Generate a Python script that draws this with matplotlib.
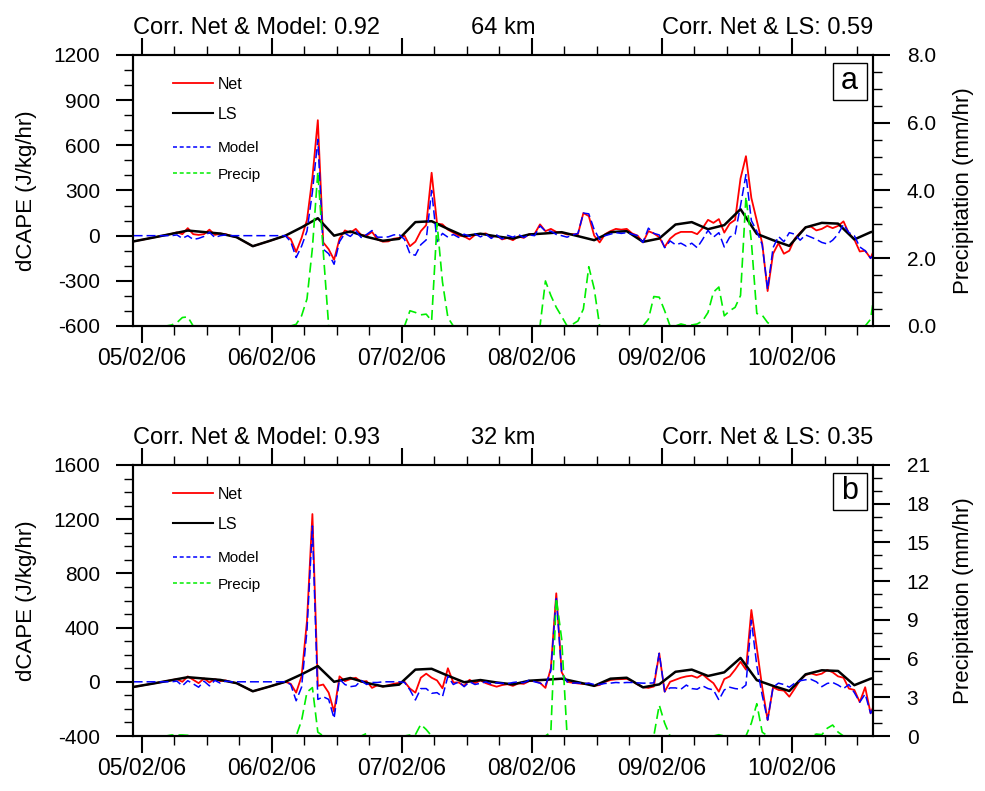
import numpy as np
import matplotlib
matplotlib.use("Agg")
import matplotlib.pyplot as plt
from matplotlib.ticker import MultipleLocator, FixedLocator, FormatStrFormatter
from matplotlib.lines import Line2D
from matplotlib.patches import Rectangle

plt.rcParams['font.family'] = ['Liberation Sans', 'DejaVu Sans']
plt.rcParams['axes.unicode_minus'] = False

# ---------------- data ----------------
# hourly samples, first one at HOUR0 hours after 05/02/06 00:00
HOUR0 = -1.5
# large-scale forcing, 3-hourly, first sample at LS_HOUR0
LS_HOUR0 = -3.5
LS_STEP = 3.0

day_labels = ['05/02/06', '06/02/06', '07/02/06', '08/02/06', '09/02/06', '10/02/06']
day_hours = [0, 24, 48, 72, 96, 120]

ls_dcape = [-52, -31, -10, 12, 34, 24, 14, -10, -70, -36,
            0, 55, 116, 0, 28, -8, -34, -21, 90, 96,
            45, -3, 13, -5, -19, 8, 15, 23, -3, -30,
            23, 30, -41, -19, 74, 90, 43, 70, 176, 12,
            -30, -68, 55, 85, 80, -25, 23, 50]

# ---- 64 km ----
net_a = [-38, -31, -24, -17, -10, -3, 5, 12, 22, 10,
         50, 10, 5, 10, 40, 5, 14, 10, -2, -10,
         -30, -50, -70, -59, -47, -36, -24, -12, 0, -22,
         -108, -15, 105, 386, 767, -45, -90, -160, -20, 35,
         20, 45, 5, 0, 25, -25, -40, -38, -20, -15,
         0, -70, -40, 30, 70, 418, 80, 75, 40, 20,
         0, -5, -25, 5, 10, 15, -10, 0, -25, -15,
         -30, -5, -15, 10, 12, 75, 30, 45, 25, 20,
         8, 10, 10, 150, 130, 0, -45, 10, 30, 45,
         40, 45, 15, 0, -45, 30, 15, -10, -75, -20,
         10, 25, 25, 25, 10, 50, 105, 85, 110, 20,
         80, 105, 380, 528, 250, 100, -50, -368, -120, -50,
         -120, -100, -20, 20, 55, 60, 35, 45, 65, 50,
         65, 95, 15, -25, -105, -100, -150, -60]

model_a = [0, 0, 0, 0, 0, 0, 0, 0, 5, -18,
           0, -25, -18, -5, 22, -12, 0, 5, 0, 0,
           0, 0, 0, 0, 0, 0, 0, 0, 0, -40,
           -145, -70, 30, 290, 640, -90, -120, -190, -40, 15,
           -5, 30, -12, 8, 34, -10, -10, -8, 5, 8,
           -25, -120, -130, -60, -28, 300, -40, 15, -10, 8,
           -12, 10, -5, 12, -8, 10, -18, 5, -22, 2,
           -10, 8, -12, 5, 0, 65, 30, 30, 8, 0,
           -10, 5, 15, 150, 145, 40, -25, 0, 10, 20,
           15, 20, 10, 0, -45, 50, 15, 5, -80, -35,
           -60, -50, -70, -50, -80, -25, 35, -10, 20, -75,
           -10, 10, 200, 405, 100, 30, -60, -357, -80, -5,
           -40, 20, 10, -30, 5, -10, -25, -45, -55, -30,
           10, 75, 20, 0, -75, -100, -150, -110]

precip_a = [0, 0, 0, 0, 0, 0, 0, 0.03, 0.1, 0.25,
            0.27, 0, 0, 0, 0, 0, 0, 0, 0, 0,
            0, 0, 0, 0, 0, 0, 0, 0, 0, 0,
            0.05, 0.3, 0.8, 2.3, 4.56, 2.2, 0, 0, 0, 0,
            0, 0, 0, 0, 0, 0, 0, 0, 0, 0,
            0, 0.45, 0.4, 0.33, 0.35, 0.15, 3.03, 1.3, 0.25, 0,
            0, 0, 0, 0, 0, 0, 0, 0, 0, 0,
            0, 0, 0, 0, 0, 0, 1.33, 0.9, 0.55, 0.28,
            0, 0.05, 0.15, 0.5, 1.75, 1.1, 0, 0, 0, 0,
            0, 0, 0, 0, 0, 0.2, 0.87, 0.85, 0.45, 0,
            0, 0.06, 0.02, 0.03, 0.06, 0.15, 0.4, 1.0, 1.15, 0.3,
            0.45, 0.55, 0.9, 3.82, 2.5, 0.37, 0.32, 0.1, 0, 0,
            0, 0, 0, 0, 0, 0, 0, 0, 0, 0,
            0, 0, 0, 0, 0, 0, 0.2, 1.3]

# ---- 32 km ----
net_b = [-38, -31, -24, -17, -10, -3, 5, 12, 20, 0,
         40, 15, -10, 25, -5, 20, 5, 10, -2, -10,
         -30, -50, -70, -59, -47, -36, -24, -12, 0, -15,
         -80, 40, 450, 1238, -30, -20, -80, -220, 40, 5,
         20, 30, 0, 5, -45, -25, -35, -25, -15, -8,
         0, -50, -80, 30, 60, 30, 10, -48, 100, -5,
         -5, -30, 15, -10, 10, -10, -24, -36, -24, -18,
         -30, -12, -15, 5, 5, -8, -45, 100, 653, 70,
         0, -7, -12, -16, -12, -30, -24, 0, 13, 18,
         20, 22, 5, -20, -40, -45, -35, 210, -73, 0,
         15, 30, 40, 45, 30, 55, 20, -10, -73, 20,
         40, 90, 148, 90, 530, 250, -40, -282, -40, -60,
         -65, -110, -50, 13, 50, 62, 50, 60, 87, 70,
         40, 30, -50, -60, -150, -40, -233, -135]

model_b = [0, 0, 0, 0, 0, 0, 0, 0, 5, -30,
           8, -15, -40, 5, -30, 10, -10, 5, 0, 0,
           0, 0, 0, 0, 0, 0, 0, 0, 0, -20,
           -140, -40, 380, 1150, -130, -110, -130, -270, 20, -20,
           -36, -30, 10, -20, -5, -5, 0, 0, 0, 0,
           -5, -60, -134, -50, -50, -85, -80, -110, 40, -20,
           0, -36, 0, -20, -11, 0, -16, -7, -11, -14,
           -5, 0, -7, 12, 0, -10, -25, 80, 628, 60,
           0, -10, -8, -15, -10, -20, -20, -12, -10, -5,
           -8, -5, -5, -8, -10, -10, -8, 210, -73, -45,
           -45, -55, -24, -50, -55, -30, -50, -60, -134, -60,
           -40, -50, -55, -24, 455, 120, -100, -282, -40, -10,
           -20, -40, -10, 8, 15, 18, 0, -36, -12, -5,
           -24, -50, -20, -80, -150, -90, -233, -160]

precip_b = [0, 0, 0, 0, 0, 0, 0, 0.08, 0.08, 0.08,
            0.05, 0, 0, 0, 0, 0, 0, 0, 0, 0,
            0, 0, 0, 0, 0, 0, 0, 0, 0, 0,
            0, 1.2, 3.4, 3.75, 0.3, 0, 0, 0, 0, 0,
            0, 0, 0, 0.2, 0, 0, 0, 0, 0, 0,
            0, 0.08, 0.1, 0.9, 0.5, 0, 0, 0, 0, 0,
            0, 0, 0, 0, 0, 0, 0, 0, 0, 0,
            0, 0, 0, 0, 0, 0, 0, 0.3, 10.7, 7.5,
            0, 0, 0, 0, 0, 0, 0, 0, 0, 0,
            0, 0, 0, 0, 0, 0, 0, 2.4, 1.0, 0,
            0, 0, 0, 0, 0, 0, 0, 0, 0.1, 0,
            0, 0, 0, 0, 1.0, 2.5, 0.3, 0, 0, 0,
            0, 0, 0, 0, 0, 0, 0.15, 0.1, 0.6, 0.85,
            0.3, 0, 0, 0, 0, 0, 0, 0]

panels = [
    dict(net=net_a, model=model_a, precip=precip_a,
         ylim=(-600, 1200), ymaj=300, ymin=100,
         plim=(0, 8), pmaj=2, pmin=0.5, pfmt='%.1f',
         left='Corr. Net & Model: 0.92', mid='64 km', right='Corr. Net & LS: 0.59',
         letter='a'),
    dict(net=net_b, model=model_b, precip=precip_b,
         ylim=(-400, 1600), ymaj=400, ymin=100,
         plim=(0, 21), pmaj=3, pmin=1, pfmt='%d',
         left='Corr. Net & Model: 0.93', mid='32 km', right='Corr. Net & LS: 0.35',
         letter='b'),
]

# ---------------- figure ----------------
W_PX, H_PX = 985, 791
fig = plt.figure(figsize=(W_PX / 100, H_PX / 100), dpi=100)
ax_left, ax_w = 133.3 / W_PX, 740 / W_PX
ax_h = 271 / H_PX
bottoms = [1 - 326 / H_PX, 1 - 736 / H_PX]

XLIM = (-1.55, 135.0)
MAJ_LEN, MIN_LEN = 12, 6.5
TICK_FS = 15
XTICK_FS = 16.5
LAB_FS = 16
TITLE_FS = 17

for p, bot in zip(panels, bottoms):
    ax = fig.add_axes([ax_left, bot, ax_w, ax_h])
    t = HOUR0 + np.arange(len(p['net']))
    t_ls = LS_HOUR0 + LS_STEP * np.arange(len(ls_dcape))

    ln_net, = ax.plot(t, p['net'], color='#ff0000', lw=1.3, zorder=3)
    ln_ls, = ax.plot(t_ls, ls_dcape, color='black', lw=1.8, zorder=4)
    ln_mod, = ax.plot(t, p['model'], color='#0000ff', lw=1.1, zorder=5,
                      dashes=(5.9, 2.6))
    ax.set_xlim(*XLIM)
    ax.set_ylim(*p['ylim'])

    ax2 = ax.twinx()
    tp = HOUR0 + np.arange(len(p['precip']))
    ln_pr, = ax2.plot(tp, p['precip'], color='#00ee00', lw=1.2, dashes=(6, 3))
    ax2.set_ylim(*p['plim'])
    ax2.set_xlim(*XLIM)

    # x ticks
    ax.xaxis.set_major_locator(FixedLocator(day_hours))
    ax.set_xticklabels(day_labels)
    ax.xaxis.set_minor_locator(MultipleLocator(6))
    ax.xaxis.set_ticks_position('both')
    ax.tick_params(axis='x', which='both', direction='out', top=True, bottom=True,
                   labeltop=False, labelbottom=True)
    ax.tick_params(axis='x', which='major', length=MAJ_LEN, width=1.5,
                   labelsize=XTICK_FS, pad=3)
    ax.tick_params(axis='x', which='minor', length=MIN_LEN, width=1.0)

    # left y ticks
    ax.yaxis.set_major_locator(MultipleLocator(p['ymaj']))
    ax.yaxis.set_minor_locator(MultipleLocator(p['ymin']))
    ax.tick_params(axis='y', which='both', direction='out', left=True, right=False)
    ax.tick_params(axis='y', which='major', length=MAJ_LEN, width=1.5,
                   labelsize=TICK_FS, pad=12)
    ax.tick_params(axis='y', which='minor', length=MIN_LEN, width=1.0)

    # right y ticks
    ax2.yaxis.set_major_locator(MultipleLocator(p['pmaj']))
    ax2.yaxis.set_minor_locator(MultipleLocator(p['pmin']))
    ax2.yaxis.set_major_formatter(FormatStrFormatter(p['pfmt']))
    ax2.tick_params(axis='y', which='both', direction='out', right=True, left=False)
    ax2.tick_params(axis='y', which='major', length=MAJ_LEN, width=1.5,
                    labelsize=TICK_FS, pad=12)
    ax2.tick_params(axis='y', which='minor', length=MIN_LEN, width=1.0)

    for a in (ax, ax2):
        for s in a.spines.values():
            s.set_linewidth(1.5)

    # axis labels
    ax.text(-0.145, 0.5, 'dCAPE (J/kg/hr)', rotation=90, ha='center', va='center',
            fontsize=LAB_FS, transform=ax.transAxes)
    ax.text(1.122, 0.5, 'Precipitation (mm/hr)', rotation=90, ha='center', va='center',
            fontsize=LAB_FS, transform=ax.transAxes)

    # titles
    ty = 1 + 21 / 271
    ax.text(0.0, ty, p['left'], ha='left', va='baseline', fontsize=TITLE_FS,
            transform=ax.transAxes)
    ax.text(0.5, ty, p['mid'], ha='center', va='baseline', fontsize=TITLE_FS,
            transform=ax.transAxes)
    ax.text(1.0, ty, p['right'], ha='right', va='baseline', fontsize=TITLE_FS,
            transform=ax.transAxes)

    # panel letter in a box
    ax2.add_patch(Rectangle((0.9451, 0.835), 0.046, 0.137, transform=ax.transAxes,
                            fill=True, fc='white', ec='black', lw=1.0, zorder=6))
    ax2.text(0.968, 0.873, p['letter'], ha='center', va='baseline', fontsize=22,
             transform=ax.transAxes, zorder=7)

    # legends
    h_net = Line2D([], [], color='#ff0000', lw=1.3)
    h_ls = Line2D([], [], color='black', lw=1.5)
    h_mod = Line2D([], [], color='#0000ff', lw=1.1, dashes=(2.6, 1.8))
    h_pr = Line2D([], [], color='#00ee00', lw=1.1, dashes=(2.6, 1.8))
    leg1 = ax2.legend([h_net, h_ls], ['Net', 'LS'], loc='upper left',
                      bbox_to_anchor=(0.0536, 0.920), bbox_transform=ax.transAxes,
                      frameon=False, fontsize=11.5, handlelength=2.5, handletextpad=0.3,
                      labelspacing=0.95, borderpad=0, borderaxespad=0)
    ax2.add_artist(leg1)
    ax2.legend([h_mod, h_pr], ['Model', 'Precip'], loc='upper left',
               bbox_to_anchor=(0.0536, 0.682), bbox_transform=ax.transAxes,
               frameon=False, fontsize=11, handlelength=2.6, handletextpad=0.35,
               labelspacing=0.82, borderpad=0, borderaxespad=0)

fig.savefig('out.png', dpi=100)
